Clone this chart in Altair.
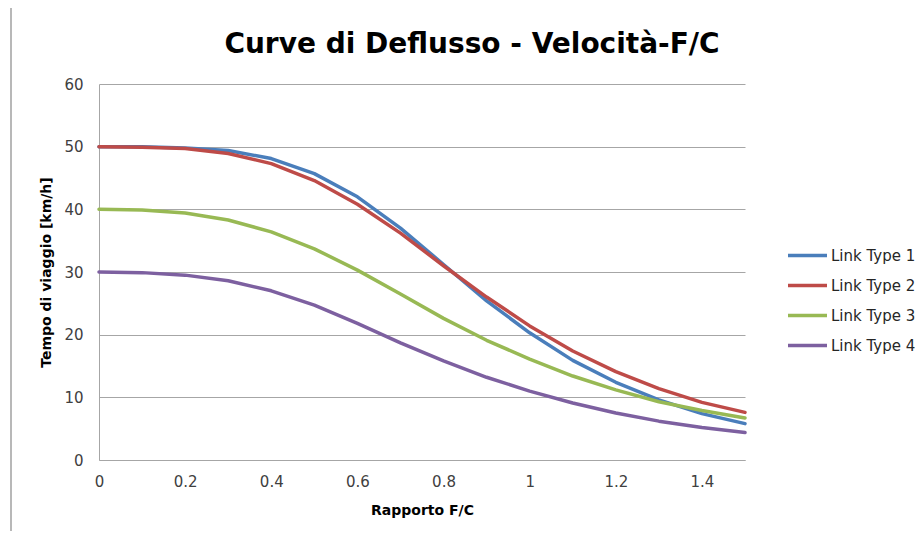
import altair as alt
import pandas as pd

x_vals = [0.0, 0.1, 0.2, 0.3, 0.4, 0.5, 0.6, 0.7, 0.8, 0.9, 1.0, 1.1, 1.2, 1.3, 1.4, 1.5]
link1 = [50.0, 50.0, 49.8, 49.4, 48.1, 45.7, 42.0, 37.0, 31.2, 25.4, 20.3, 15.9, 12.4, 9.6, 7.4, 5.8]
link2 = [50.0, 49.9, 49.7, 48.9, 47.3, 44.6, 40.8, 36.2, 31.0, 26.0, 21.4, 17.4, 14.1, 11.4, 9.2, 7.6]
link3 = [40.0, 39.9, 39.4, 38.3, 36.4, 33.7, 30.3, 26.5, 22.6, 19.1, 16.1, 13.4, 11.2, 9.3, 7.9, 6.7]
link4 = [30.0, 29.9, 29.5, 28.6, 27.0, 24.7, 21.8, 18.7, 15.8, 13.2, 11.0, 9.1, 7.5, 6.2, 5.2, 4.4]
series_names = ["Link Type 1", "Link Type 2", "Link Type 3", "Link Type 4"]
series_colors = ["#4A7EBB", "#BE4B48", "#98B954", "#7D60A0"]
y_ticks = [0, 10, 20, 30, 40, 50, 60]
x_ticks = [0, 0.2, 0.4, 0.6, 0.8, 1.0, 1.2, 1.4]

rows = []
for name, vals in zip(series_names, [link1, link2, link3, link4]):
    for xv, yv in zip(x_vals, vals):
        rows.append({"x": xv, "y": yv, "serie": name})
df = pd.DataFrame(rows)

FONT = "DejaVu Sans"

lines = alt.Chart(df).mark_line(strokeWidth=3.5, strokeCap="round", strokeJoin="round").encode(
    x=alt.X("x:Q",
            scale=alt.Scale(domain=[0, 1.5], nice=False, zero=True),
            axis=alt.Axis(values=x_ticks, title="Rapporto F/C", grid=False, ticks=False,
                          format="~g", labelFlush=False,
                          domainColor="#A6A6A6", domainWidth=1,
                          labelFontSize=15, labelColor="#404040", labelPadding=14,
                          labelFont=FONT,
                          titleFont=FONT, titleFontSize=14, titleFontWeight="bold",
                          titleColor="#000000", titlePadding=14)),
    y=alt.Y("y:Q",
            scale=alt.Scale(domain=[0, 60], nice=False),
            axis=alt.Axis(values=y_ticks, title="Tempo di viaggio [km/h]", grid=True,
                          gridColor="#A6A6A6", gridWidth=1, ticks=False,
                          domainColor="#A6A6A6", domainWidth=1,
                          labelFontSize=15, labelColor="#404040", labelPadding=16,
                          labelFont=FONT,
                          titleFont=FONT, titleFontSize=14, titleFontWeight="bold",
                          titleColor="#000000", titlePadding=10)),
    color=alt.Color("serie:N",
                    scale=alt.Scale(domain=series_names, range=series_colors),
                    legend=alt.Legend(title=None, orient="none", legendX=687, legendY=150,
                                      symbolType="stroke", symbolSize=1521,
                                      symbolStrokeWidth=3.5, labelFontSize=15,
                                      labelFont=FONT, labelColor="#262626",
                                      labelOffset=2, rowPadding=-6, padding=0)),
    order="x:Q",
)

frame = alt.Chart(pd.DataFrame({"a": [0]})).mark_rule(color="#A0A0A0", strokeWidth=1.5).encode(
    x=alt.value(-88), y=alt.value(-76), y2=alt.value(455)
)

chart = alt.layer(frame, lines).properties(
    width=646,
    height=376,
    padding={"left": 91, "top": 76, "right": 170, "bottom": 71},
    autosize=alt.AutoSizeParams(type="none"),
    title=alt.TitleParams("Curve di Deflusso - Velocità-F/C", font=FONT, fontSize=28,
                          fontWeight="bold", color="#000000", anchor="middle",
                          dx=50, offset=-52),
).configure_view(stroke=None)

chart.save("out.html", embed_options={"renderer": "svg", "actions": False})
